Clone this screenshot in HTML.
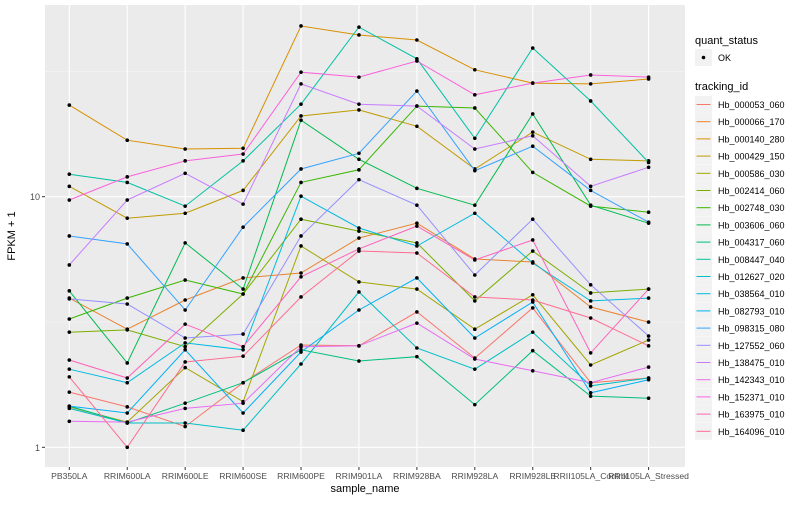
<!DOCTYPE html>
<html><head><meta charset="utf-8"><style>
body{margin:0;background:#fff;font-family:"Liberation Sans",sans-serif}
svg text{font-family:"Liberation Sans",sans-serif}
</style></head><body>
<svg id="chart" width="800" height="500" xmlns="http://www.w3.org/2000/svg">
<rect width="800" height="500" fill="#fff"/>
<g id="plot"></g>
<g id="legend"></g>
</svg>
<script>
const categories=["PB350LA","RRIM600LA","RRIM600LE","RRIM600SE","RRIM600PE","RRIM901LA","RRIM928BA","RRIM928LA","RRIM928LE","RRII105LA_Control","RRII105LA_Stressed"];
const seriesNames=["Hb_000053_060","Hb_000066_170","Hb_000140_280","Hb_000429_150","Hb_000586_030","Hb_002414_060","Hb_002748_030","Hb_003606_060","Hb_004317_060","Hb_008447_040","Hb_012627_020","Hb_038564_010","Hb_082793_010","Hb_098315_080","Hb_127552_060","Hb_138475_010","Hb_142343_010","Hb_152371_010","Hb_163975_010","Hb_164096_010"];
const colors=["#F8766D","#EA8331","#D89000","#C09B00","#A3A500","#7CAE00","#39B600","#00BB4E","#00BF7D","#00C1A3","#00BFC4","#00BAE0","#00B0F6","#35A2FF","#9590FF","#C77CFF","#E76BF3","#FA62DB","#FF62BC","#FF6C91"];
const s000053=[1.66,1.45,1.21,1.81,2.56,2.54,3.47,2.27,3.60,1.81,1.89];
const s000066=[3.94,2.96,3.87,4.74,4.96,6.84,7.84,5.64,5.49,3.63,3.16];
const s000140=[23.2,16.8,15.5,15.6,48.0,44.2,42.2,32.1,28.4,28.2,29.5];
const s000429=[11.0,8.21,8.59,10.6,21.0,22.2,19.1,12.9,18.1,14.1,13.9];
const s000586=[1.45,1.26,2.08,1.52,6.36,4.57,4.28,2.96,4.06,2.13,2.68];
const s002414=[2.88,2.94,2.52,4.09,8.13,7.29,6.54,3.84,6.07,4.13,4.28];
const s002748=[3.25,3.94,4.65,4.09,11.4,12.8,23.0,22.6,12.5,9.17,8.67];
const s003606=[4.21,2.17,6.54,4.28,20.2,14.1,10.8,9.25,21.4,9.25,7.84];
const s004317=[1.46,1.25,1.50,1.81,2.45,2.21,2.30,1.48,2.43,1.60,1.57];
const s008447=[12.3,11.4,9.17,13.9,23.4,47.5,35.5,17.1,39.2,24.1,13.7];
const s012627=[1.43,1.25,1.25,1.17,2.15,4.17,2.49,2.05,2.88,1.76,1.89];
const s038564=[2.05,1.81,2.61,2.45,10.05,7.50,6.36,8.59,5.44,3.84,3.94];
const s082793=[1.46,1.37,2.45,1.37,2.40,3.53,4.74,2.73,3.80,1.65,1.86];
const s098315=[6.97,6.48,3.53,7.56,12.9,14.9,26.4,12.7,15.9,10.6,7.91];
const s127552=[3.91,3.73,2.73,2.83,6.97,11.7,9.25,4.87,8.13,4.45,2.78];
const s138475=[5.34,9.7,12.4,9.34,28.2,23.4,23.0,15.5,17.5,11.0,13.1];
const s142343=[1.27,1.26,1.43,1.50,2.52,2.54,3.13,2.25,2.02,1.81,2.09];
const s152371=[9.7,12.0,13.9,14.8,31.4,30.0,34.8,25.5,28.4,30.6,30.0];
const s163975=[2.23,1.89,3.10,2.52,4.79,6.19,7.63,5.59,6.72,2.38,4.28];
const s164096=[1.91,1.0,2.19,2.31,3.98,6.07,5.96,3.98,3.87,3.28,2.54];
const seriesValues=[s000053,s000066,s000140,s000429,s000586,s002414,s002748,s003606,s004317,s008447,s012627,s038564,s082793,s098315,s127552,s138475,s142343,s152371,s163975,s164096];
const yTicks=[1,10];
const yTickLabels=["1","10"];

const NS="http://www.w3.org/2000/svg";
const P={l:45,r:685,t:5,b:467};
const x0=69.3,dx=57.93;
function xs(i){return x0+i*dx;}
function ys(v){return 447.3-Math.log10(v)*250.6;}
function mk(tag,attrs,parent){const e=document.createElementNS(NS,tag);for(const k in attrs)e.setAttribute(k,attrs[k]);parent.appendChild(e);return e;}
const plot=document.getElementById('plot');
const bg=mk('rect',{x:P.l,y:P.t,width:P.r-P.l,height:P.b-P.t,fill:'#EBEBEB'},plot);


// minor grid
[Math.sqrt(10),Math.sqrt(1000)].forEach(v=>{const y=ys(v);mk('line',{x1:P.l,x2:P.r,y1:y,y2:y,stroke:'#F5F5F5','stroke-width':0.6},plot);});
yTicks.forEach((v,i)=>{const y=ys(v);
 const g=mk('line',{x1:P.l,x2:P.r,y1:y,y2:y,stroke:'#fff','stroke-width':1.1},plot);
 
 
 mk('line',{x1:P.l-3,x2:P.l,y1:y,y2:y,stroke:'#333','stroke-width':1},plot);
 const t=mk('text',{x:P.l-5,y:y+3.5,'text-anchor':'end','font-size':9,fill:'#4D4D4D'},plot);t.textContent=yTickLabels[i];
 
 
});
categories.forEach((c,i)=>{const x=xs(i);
 const g=mk('line',{x1:x,x2:x,y1:P.t,y2:P.b,stroke:'#fff','stroke-width':1.1},plot);
 
 
 mk('line',{x1:x,x2:x,y1:P.b,y2:P.b+3,stroke:'#333','stroke-width':1},plot);
 const t=mk('text',{x:x,y:P.b+12,'text-anchor':'middle','font-size':8.6,fill:'#4D4D4D'},plot);t.textContent=c;
 
 
});
seriesValues.forEach((vals,si)=>{
 const g=mk('g',{},plot);
 
 
 const pts=vals.map((v,i)=>xs(i).toFixed(1)+','+ys(v).toFixed(1)).join(' ');
 const pl=mk('polyline',{points:pts,fill:'none',stroke:colors[si],'stroke-width':1},g);
 
 
 vals.forEach((v,i)=>{const c=mk('circle',{cx:xs(i),cy:ys(v),r:1.8,fill:'#000'},g);
  
  });
});
const yt=mk('text',{x:15,y:236,'text-anchor':'middle','font-size':11,fill:'#000',transform:'rotate(-90 15 236)'},plot);yt.textContent='FPKM + 1';


const xt=mk('text',{x:365,y:492,'text-anchor':'middle','font-size':11,fill:'#000'},plot);xt.textContent='sample_name';



const lg=document.getElementById('legend');
const t1=mk('text',{x:695,y:44,'font-size':11,fill:'#000'},lg);t1.textContent='quant_status';


mk('rect',{x:695,y:49,width:17,height:17,fill:'#F2F2F2'},lg);
mk('circle',{cx:703.5,cy:57.5,r:1.8,fill:'#000'},lg);
const ok=mk('text',{x:718,y:61,'font-size':9,fill:'#000'},lg);ok.textContent='OK';


const t2=mk('text',{x:695,y:90,'font-size':11,fill:'#000'},lg);t2.textContent='tracking_id';


seriesNames.forEach((n,i)=>{const y=96+i*17.2;
 const g=mk('g',{},lg);
 
 
 mk('rect',{x:695,y:y,width:17,height:17,fill:'#F2F2F2'},g);
 mk('line',{x1:696.5,x2:710.5,y1:y+8.5,y2:y+8.5,stroke:colors[i],'stroke-width':1},g);
 const t=mk('text',{x:718,y:y+12,'font-size':9,fill:'#000'},g);t.textContent=n;
});
</script>
</body></html>
